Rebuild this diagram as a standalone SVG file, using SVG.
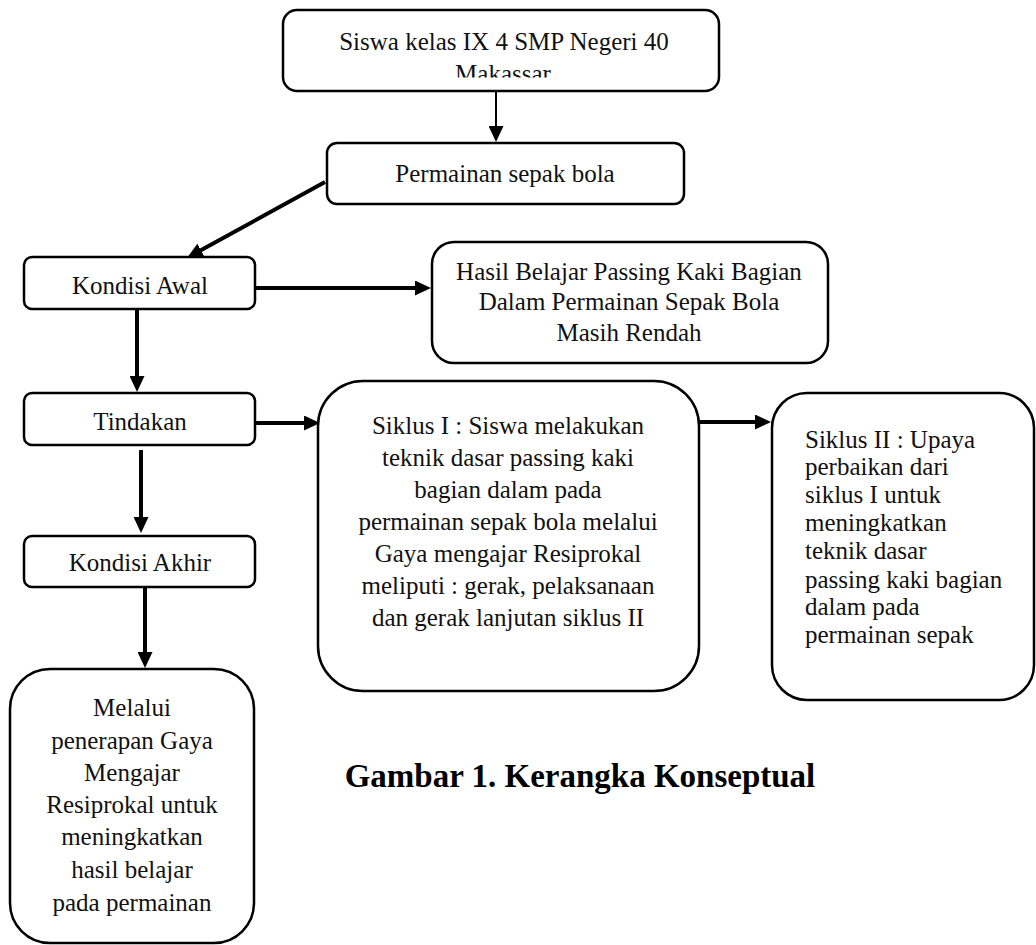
<svg xmlns="http://www.w3.org/2000/svg" width="1036" height="945" viewBox="0 0 1036 945">
<style>
  .box { fill: #fff; stroke: #000; stroke-width: 2.5; }
  .t { font-family: "Liberation Serif", "Times New Roman", serif; font-size: 25px; fill: #111; }
  .c { text-anchor: middle; }
  .cap { font-family: "Liberation Serif", "Times New Roman", serif; font-size: 33px; font-weight: bold; fill: #000; text-anchor: middle; }
  .ln { stroke: #000; stroke-width: 4; fill: none; }
  .thin { stroke-width: 2; }
</style>
<defs>
  <marker id="ah" markerUnits="userSpaceOnUse" markerWidth="16" markerHeight="15" refX="8" refY="7.5" orient="auto">
    <path d="M0,0 L16,7.5 L0,15 z" fill="#000"/>
  </marker>
  <clipPath id="clipTop"><rect x="283" y="10" width="436" height="67.5"/></clipPath>
</defs>
<rect width="1036" height="945" fill="#fff"/>

<g id="connectors">
  <line class="ln thin" x1="496" y1="91" x2="496" y2="134" marker-end="url(#ah)"/>
  <line class="ln" x1="325" y1="182" x2="194" y2="254.1" marker-end="url(#ah)"/>
  <line class="ln" x1="255" y1="288" x2="423" y2="288" marker-end="url(#ah)"/>
  <line class="ln" x1="137" y1="309" x2="137" y2="384" marker-end="url(#ah)"/>
  <line class="ln" x1="255" y1="423" x2="312" y2="423" marker-end="url(#ah)"/>
  <line class="ln" x1="699" y1="422" x2="763" y2="422" marker-end="url(#ah)"/>
  <line class="ln" x1="141" y1="450" x2="141" y2="525" marker-end="url(#ah)"/>
  <line class="ln" x1="145" y1="587" x2="145" y2="660" marker-end="url(#ah)"/>
</g>

<g id="node-siswa">
  <rect class="box" x="283" y="10" width="436" height="81" rx="14"/>
  <g clip-path="url(#clipTop)">
    <text class="t c" x="504" y="50">Siswa kelas IX 4 SMP Negeri 40</text>
    <text class="t c" x="503" y="82">Makassar</text>
  </g>
</g>

<g id="node-permainan">
  <rect class="box" x="327" y="143" width="357" height="61" rx="10"/>
  <text class="t c" x="505" y="182">Permainan sepak bola</text>
</g>

<g id="node-kondisi-awal">
  <rect class="box" x="24" y="257" width="231" height="52" rx="8"/>
  <text class="t c" x="140" y="294">Kondisi Awal</text>
</g>

<g id="node-hasil">
  <rect class="box" x="432" y="242" width="396" height="121" rx="22"/>
  <text class="t c" x="629" y="280">Hasil Belajar Passing Kaki Bagian</text>
  <text class="t c" x="629" y="310">Dalam Permainan Sepak Bola</text>
  <text class="t c" x="629" y="341">Masih Rendah</text>
</g>

<g id="node-tindakan">
  <rect class="box" x="24" y="393" width="231" height="52" rx="8"/>
  <text class="t c" x="140" y="430">Tindakan</text>
</g>

<g id="node-siklus1">
  <rect class="box" x="318" y="381" width="381" height="310" rx="45"/>
  <text class="t c" x="508" y="434">Siklus I : Siswa melakukan</text>
  <text class="t c" x="508" y="466">teknik dasar passing kaki</text>
  <text class="t c" x="508" y="498">bagian dalam pada</text>
  <text class="t c" x="508" y="530">permainan sepak bola melalui</text>
  <text class="t c" x="508" y="562">Gaya mengajar Resiprokal</text>
  <text class="t c" x="508" y="594">meliputi : gerak, pelaksanaan</text>
  <text class="t c" x="508" y="626">dan gerak lanjutan siklus II</text>
</g>

<g id="node-siklus2">
  <rect class="box" x="772" y="393" width="262" height="307" rx="35"/>
  <text class="t" x="805" y="448">Siklus II : Upaya</text>
  <text class="t" x="805" y="475">perbaikan dari</text>
  <text class="t" x="805" y="503">siklus I untuk</text>
  <text class="t" x="805" y="531">meningkatkan</text>
  <text class="t" x="805" y="559">teknik dasar</text>
  <text class="t" x="805" y="588">passing kaki bagian</text>
  <text class="t" x="805" y="615">dalam pada</text>
  <text class="t" x="805" y="643">permainan sepak</text>
</g>

<g id="node-kondisi-akhir">
  <rect class="box" x="24" y="536" width="231" height="51" rx="8"/>
  <text class="t c" x="140" y="571">Kondisi Akhir</text>
</g>

<g id="node-melalui">
  <rect class="box" x="10" y="669" width="244" height="274" rx="40"/>
  <text class="t c" x="132" y="716">Melalui</text>
  <text class="t c" x="132" y="749">penerapan Gaya</text>
  <text class="t c" x="132" y="781">Mengajar</text>
  <text class="t c" x="132" y="813">Resiprokal untuk</text>
  <text class="t c" x="132" y="845">meningkatkan</text>
  <text class="t c" x="132" y="878">hasil belajar</text>
  <text class="t c" x="132" y="911">pada permainan</text>
</g>

<g id="caption">
  <text class="cap" x="580" y="787">Gambar 1. Kerangka Konseptual</text>
</g>
</svg>
